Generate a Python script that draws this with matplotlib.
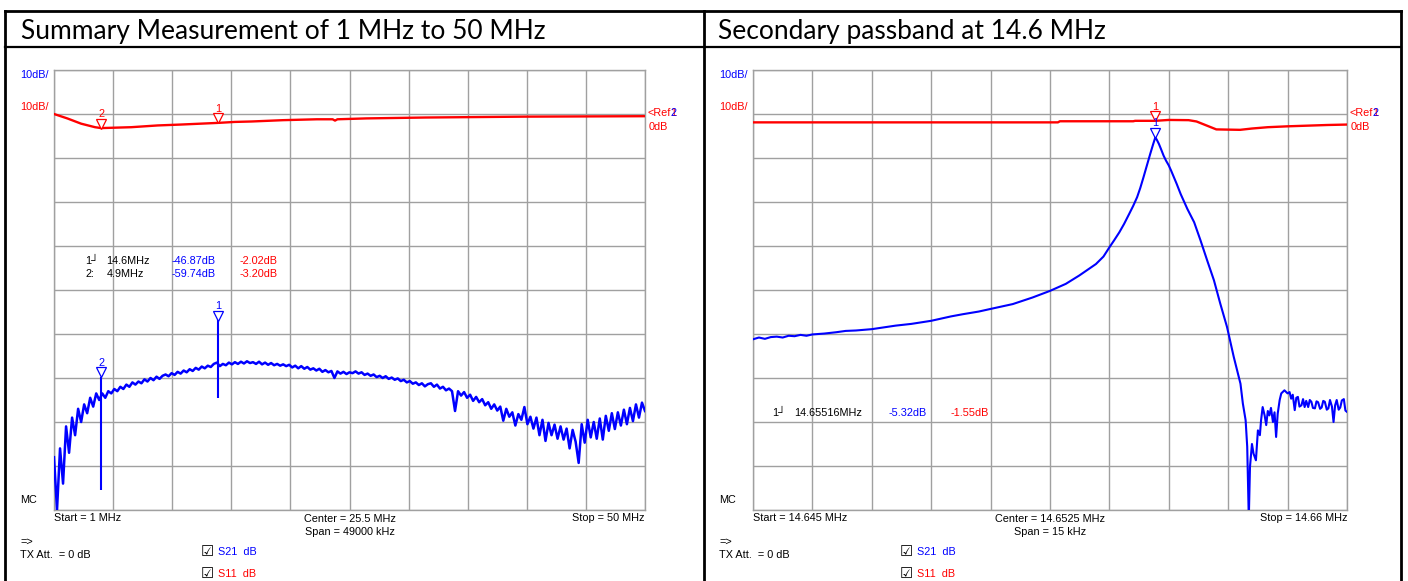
import numpy as np
import matplotlib
matplotlib.use("Agg")
import matplotlib.pyplot as plt
from matplotlib.transforms import offset_copy
from matplotlib.lines import Line2D

# ---------------- data ----------------
TITLE_LEFT = "Summary Measurement of 1 MHz to 50 MHz"
TITLE_RIGHT = "Secondary passband at 14.6 MHz"

# Left sweep: 1 MHz .. 50 MHz, 0.25 MHz steps
L_START, L_STOP, L_NPTS = 1.0, 50.0, 197
L_S21 = [
    -78, -90, -76, -84, -71, -77, -69, -73, -67, -70, -66, -68, -64.5, -66.5, -63.5, -65,
    -63.5, -64.5, -63, -63.5, -62.5, -63, -62, -62.5, -61.5, -62, -61, -61.5, -60.8, -61.2,
    -60.3, -60.8, -60, -60.5, -59.7, -60.2, -59.5, -59.2, -59.6, -58.9, -59.3, -58.6, -59,
    -58.3, -58.7, -58, -58.4, -57.7, -58.1, -57.4, -57.8, -57.2, -57.5, -56.8, -56.5, -57.3,
    -56.8, -57.1, -56.5, -56.9, -56.4, -56.8, -56.3, -56.7, -56.2, -56.6, -56.4, -56.8, -56.3,
    -56.9, -56.5, -57.0, -56.6, -57.1, -56.8, -57.2, -56.9, -57.3, -57.0, -57.6, -57.2, -57.8,
    -57.3, -57.9, -57.5, -58.1, -57.8, -58.3, -57.9, -58.6, -58.2, -58.7, -58.4, -60.0, -58.5,
    -59.0, -58.6, -59.1, -58.7, -58.9, -58.5, -59.0, -58.7, -59.3, -59.0, -59.5, -59.2, -59.8,
    -59.5, -60.0, -59.6, -60.2, -59.9, -60.4, -60.1, -60.7, -60.4, -61.0, -60.7, -61.3, -61.0,
    -61.6, -61.2, -61.9, -61.4, -61.2, -62.0, -61.5, -62.4, -62.0, -62.8, -62.4, -63.0, -67.5,
    -63.0, -64.0, -63.2, -64.5, -63.8, -65.2, -64.3, -65.5, -64.8, -66.2, -65.5, -67.0, -66.0,
    -67.4, -66.5, -69.7, -67.0, -68.8, -67.8, -70.8, -68.2, -69.5, -66.6, -70.5, -68.8, -71.5,
    -69.0, -73.0, -69.5, -74.3, -70.2, -73.0, -70.6, -73.8, -71.0, -74.0, -71.5, -76.0, -71.8,
    -74.5, -79.3, -70.5, -74.7, -69.5, -73.5, -70.0, -73.8, -69.2, -74.0, -68.6, -72.0, -68.0,
    -71.6, -67.8, -70.8, -67.2, -70.5, -66.8, -69.8, -66.0, -69.0, -65.6, -67.5,
]
L_SPIKE_F = [4.9, 14.6]
L_SPIKE_LO = [-85.4, -64.6]
L_SPIKE_HI = [-59.74, -46.0]

L_S11_F = [1.0, 2.1, 3.25, 4.4, 4.9, 7.4, 9.6, 11.5, 14.6, 16.0, 17.4, 20.0, 22.8, 24.1, 24.3, 24.5,
           26.9, 31.8, 40.0, 50.0]
L_S11 = [0.0, -1.0, -2.2, -3.0, -3.2, -3.0, -2.6, -2.4, -2.02, -1.8, -1.7, -1.4, -1.2, -1.2, -1.5,
         -1.2, -1.0, -0.8, -0.6, -0.5]

L_MARK_F = [14.6, 4.9]
L_MARK_S21 = [-46.87, -59.74]
L_MARK_S11 = [-2.02, -3.20]
L_MARK_LABEL = ["1", "2"]

# Right sweep: 14.645 MHz .. 14.660 MHz, in kHz from start
R_S21_K = [0.0, 0.15, 0.3, 0.45, 0.6, 0.75, 0.9, 1.05, 1.2, 1.35, 1.5, 1.8, 2.1, 2.34, 2.6, 3.0,
           3.3, 3.6, 4.0, 4.5, 5.0, 5.3, 5.7, 6.0, 6.56, 7.06, 7.5, 7.9, 8.24, 8.66, 8.85, 9.0,
           9.12, 9.25, 9.37, 9.5, 9.6, 9.7, 9.78, 9.86, 9.94, 10.03, 10.1, 10.16, 10.2, 10.25,
           10.3, 10.37, 10.43, 10.5, 10.56, 10.63, 10.7, 10.8, 10.97, 11.14, 11.3,
           11.47, 11.64, 11.8, 11.97, 12.14, 12.31, 12.37, 12.44, 12.48, 12.52, 12.55, 12.6,
           12.64, 12.7, 12.75, 12.8, 12.83, 12.87, 12.92, 12.96, 13.0, 13.04, 13.08, 13.13,
           13.17, 13.21, 13.25, 13.3, 13.34, 13.42, 13.5, 13.55, 13.59, 13.63, 13.68, 13.72,
           13.76, 13.8, 13.85, 13.89, 13.93, 13.97, 14.02, 14.06, 14.1, 14.14, 14.19, 14.23,
           14.27, 14.32, 14.36, 14.4, 14.44, 14.49, 14.53, 14.57, 14.62, 14.66, 14.7, 14.74,
           14.79, 14.83, 14.87, 14.92, 14.96, 15.0]
R_S21 = [-51.2, -50.8, -51.1, -50.7, -50.6, -50.8, -50.4, -50.5, -50.2, -50.4, -50.1, -49.9,
         -49.6, -49.3, -49.2, -48.9, -48.5, -48.1, -47.7, -47.0, -46.0, -45.5, -44.9, -44.3,
         -43.2, -41.7, -40.2, -38.6, -36.7, -34.1, -32.4, -30.3, -28.7, -26.9, -25.0, -22.7,
         -20.9, -18.9, -16.8, -14.4, -11.9, -9.1, -7.0, -5.3, -5.9, -6.8, -7.9, -9.5, -10.6,
         -11.7, -12.9, -14.4, -15.9, -18.2, -21.6, -24.6, -28.7, -33.3, -37.8, -43.1,
         -48.4, -55.2, -61.3, -65.8, -69.6, -75.6, -92.0, -80.2, -75.0, -77.2, -78.7, -71.9,
         -73.0, -69.6, -66.6, -68.5, -70.7, -67.5, -68.5, -66.8, -70.0, -67.8, -73.4, -68.1,
         -65.0, -63.5, -62.8, -63.5, -63.2, -64.7, -63.8, -67.3, -64.5, -64.3, -66.5, -66.2,
         -64.8, -66.6, -65.2, -66.6, -65.0, -65.4, -66.8, -66.9, -65.3, -65.5, -67.0, -66.7,
         -65.2, -65.4, -67.2, -66.9, -65.0, -66.5, -70.0, -66.2, -65.0, -67.2, -66.7, -65.1,
         -64.8, -67.4, -67.7]
R_S11_K = [0.0, 7.7, 7.75, 9.6, 9.65, 10.16, 10.5, 11.0, 11.2, 11.45, 11.7, 12.3, 12.6, 13.0,
           13.5, 14.5, 15.0]
R_S11 = [-1.9, -1.9, -1.65, -1.65, -1.55, -1.55, -1.35, -1.4, -1.7, -2.6, -3.5, -3.6, -3.3,
         -3.0, -2.8, -2.5, -2.4]
R_MARK_K = [10.16]
R_MARK_S21 = [-5.32]
R_MARK_S11 = [-1.55]

# ---------------- figure ----------------
W, H = 1408, 581
fig = plt.figure(figsize=(W / 100, H / 100), dpi=100)
fig.patch.set_facecolor("white")

BLUE = "#0000ff"
RED = "#ff0000"
GRID = "#a0a0a0"
SMALL = 7.8
SF = ["Liberation Sans", "DejaVu Sans"]
HF = ["Lato", "DejaVu Sans"]


def fx(x):
    return x / W


def fy(y):
    return 1 - y / H


def ftext(x, y, s, **kw):
    kw.setdefault("fontsize", SMALL)
    kw.setdefault("family", SF)
    kw.setdefault("va", "center")
    return fig.text(fx(x), fy(y), s, **kw)


# table frame
def fline(xs, ys, lw=2.0):
    fig.add_artist(Line2D([fx(v) for v in xs], [fy(v) for v in ys], color="black", lw=lw,
                          transform=fig.transFigure))


fline([5, 1401], [11, 11])
fline([5, 1401], [47, 47], lw=1.6)
fline([5, 5], [11, 581])
fline([704, 704], [11, 581])
fline([1401, 1401], [11, 581])

fig.text(fx(21), fy(31), TITLE_LEFT, fontsize=19, family=HF, va="center")
fig.text(fx(718), fy(31), TITLE_RIGHT, fontsize=19, family=HF, va="center")


def make_axes(x0, x1, y0, y1):
    ax = fig.add_axes([fx(x0), fy(y1), (x1 - x0) / W, (y1 - y0) / H])
    ax.set_ylim(-90, 10)
    ax.set_yticks(np.arange(-90, 11, 10))
    ax.tick_params(left=False, bottom=False, labelleft=False, labelbottom=False)
    ax.grid(True, color=GRID, lw=1.0)
    for sp in ax.spines.values():
        sp.set_color(GRID)
        sp.set_linewidth(1.0)
    ax.set_axisbelow(True)
    return ax


def marker(ax, x, y, label, color):
    tr = offset_copy(ax.transData, fig=fig, x=0, y=3.2, units="points")
    ax.plot([x], [y], marker="v", ms=6.5, mfc="white", mec=color, mew=0.9, transform=tr,
            clip_on=False, zorder=5)
    ax.annotate(label, (x, y), xytext=(0, 6.5), textcoords="offset points", ha="center",
                va="bottom", color=color, fontsize=SMALL, family=SF, zorder=6)


# ----- left chart -----
axL = make_axes(54, 645, 70, 510)
axL.set_xlim(L_START, L_STOP)
axL.set_xticks(np.linspace(L_START, L_STOP, 11))
fL = np.linspace(L_START, L_STOP, L_NPTS)
axL.plot(L_S11_F, L_S11, color=RED, lw=1.7, zorder=3)
axL.plot(fL, L_S21, color=BLUE, lw=1.8, zorder=3)
axL.vlines(L_SPIKE_F, L_SPIKE_LO, L_SPIKE_HI, color=BLUE, lw=1.5, zorder=3)
for f, a, b, lab in zip(L_MARK_F, L_MARK_S21, L_MARK_S11, L_MARK_LABEL):
    marker(axL, f, a, lab, BLUE)
    marker(axL, f, b, lab, RED)

# ----- right chart -----
axR = make_axes(753, 1347, 70, 510)
axR.set_xlim(0, 15)
axR.set_xticks(np.linspace(0, 15, 11))
axR.plot(R_S11_K, R_S11, color=RED, lw=1.7, zorder=3)
axR.plot(R_S21_K, R_S21, color=BLUE, lw=1.5, zorder=3)
for k, a, b in zip(R_MARK_K, R_MARK_S21, R_MARK_S11):
    marker(axR, k, a, "1", BLUE)
    marker(axR, k, b, "1", RED)

# ----- instrument annotations -----
fig.canvas.draw()
renderer = fig.canvas.get_renderer()
for x0, xs, xc, xe, start, center, span, stop in [
    (20, 54, 350, 645, "Start = 1 MHz", "Center = 25.5 MHz", "Span = 49000 kHz", "Stop = 50 MHz"),
    (719, 753, 1050, 1347, "Start = 14.645 MHz", "Center = 14.6525 MHz", "Span = 15 kHz",
     "Stop = 14.66 MHz"),
]:
    ftext(x0, 75, "10dB/", color=BLUE)
    ftext(x0, 107, "10dB/", color=RED)
    t = ftext(xe + 2, 113, "<Ref", color=RED)
    ext = t.get_window_extent(renderer)
    xend = ext.x1  # display px from left
    ftext(xend, 113, "1", color=RED)
    ftext(xend, 113, "2", color=BLUE)
    ftext(xe + 4, 127, "0dB", color=RED)
    ftext(x0, 500, "MC")
    ftext(xs, 518, start)
    ftext(xc, 519, center, ha="center")
    ftext(xc, 532, span, ha="center")
    ftext(xe, 518, stop, ha="right")
    ftext(x0, 542, "=>")
    ftext(x0, 555, "TX Att.  = 0 dB")
    ftext(x0 + 181, 551, "\u2611", fontsize=10.5, family=["DejaVu Sans"])
    ftext(x0 + 198, 552, "S21  dB", color=BLUE)
    ftext(x0 + 181, 573, "\u2611", fontsize=10.5, family=["DejaVu Sans"])
    ftext(x0 + 198, 574, "S11  dB", color=RED)

# marker tables
ftext(85, 261, "1\u2518")
ftext(106, 261, "14.6MHz")
ftext(172, 261, "-46.87dB", color=BLUE)
ftext(240, 261, "-2.02dB", color=RED)
ftext(85, 274, "2:")
ftext(107, 274, "4.9MHz")
ftext(172, 274, "-59.74dB", color=BLUE)
ftext(240, 274, "-3.20dB", color=RED)

ftext(772, 413, "1\u2518")
ftext(794, 413, "14.65516MHz")
ftext(927, 413, "-5.32dB", color=BLUE, ha="right")
ftext(989, 413, "-1.55dB", color=RED, ha="right")

fig.savefig("out.png", dpi=100, facecolor="white")
